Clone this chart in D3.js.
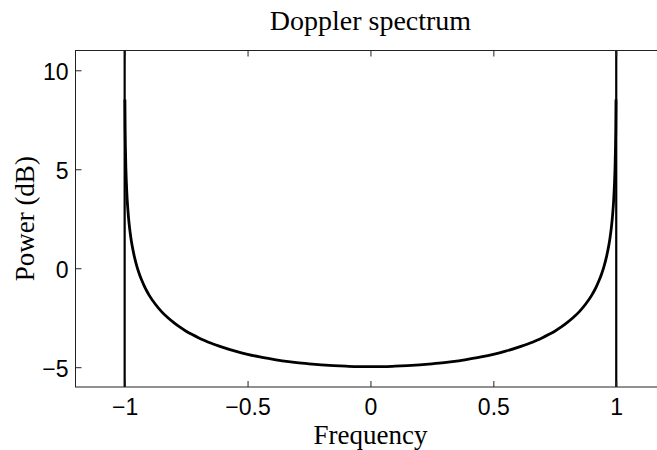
<!DOCTYPE html>
<html>
<head>
<meta charset="utf-8">
<script src="https://cdn.jsdelivr.net/npm/d3@7"></script>
<style>
  html, body { margin: 0; padding: 0; background: #fff; }
  svg { display: block; }
</style>
</head>
<body>
<svg id="chart" width="657" height="450"></svg>
<script>
// ---- data ----
const title = "Doppler spectrum";
const xLabel = "Frequency";
const yLabel = "Power (dB)";
const xTicks = [-1, -0.5, 0, 0.5, 1];
const xTickLabels = ["\u22121", "\u22120.5", "0", "0.5", "1"];
const yTicks = [-5, 0, 5, 10];
const yTickLabels = ["\u22125", "0", "5", "10"];
const xDomain = [-1.2, 1.2];
const yDomain = [-6, 11];

const frequency = [
  -0.999, -0.998, -0.997, -0.995, -0.993, -0.99, -0.985, -0.98, -0.975, -0.97,
  -0.96, -0.95, -0.94, -0.93, -0.92, -0.91, -0.9, -0.875, -0.85, -0.825,
  -0.8, -0.775, -0.75, -0.725, -0.7, -0.675, -0.65, -0.6, -0.55, -0.5,
  -0.45, -0.4, -0.35, -0.3, -0.25, -0.2, -0.15, -0.1, -0.05, 0,
  0.05, 0.1, 0.15, 0.2, 0.25, 0.3, 0.35, 0.4, 0.45, 0.5,
  0.55, 0.6, 0.65, 0.675, 0.7, 0.725, 0.75, 0.775, 0.8, 0.825,
  0.85, 0.875, 0.9, 0.91, 0.92, 0.93, 0.94, 0.95, 0.96, 0.97,
  0.975, 0.98, 0.985, 0.99, 0.993, 0.995, 0.997, 0.998, 0.999
];
const power = [
  8.52, 7.02, 6.14, 5.03, 4.31, 3.53, 2.66, 2.04, 1.56, 1.17,
  0.56, 0.08, -0.30, -0.62, -0.90, -1.15, -1.37, -1.82, -2.19, -2.49,
  -2.75, -2.98, -3.18, -3.35, -3.51, -3.65, -3.78, -4.00, -4.19, -4.35,
  -4.48, -4.59, -4.69, -4.77, -4.83, -4.88, -4.92, -4.95, -4.97, -4.97,
  -4.97, -4.95, -4.92, -4.88, -4.83, -4.77, -4.69, -4.59, -4.48, -4.35,
  -4.19, -4.00, -3.78, -3.65, -3.51, -3.35, -3.18, -2.98, -2.75, -2.49,
  -2.19, -1.82, -1.37, -1.15, -0.90, -0.62, -0.30, 0.08, 0.56, 1.17,
  1.56, 2.04, 2.66, 3.53, 4.31, 5.03, 6.14, 7.02, 8.52
];
// vertical edge lines at the Doppler limits
const edgeFreqs = [-1, 1];

// ---- layout ----
const svg = d3.select("#chart");
const mLeft = 75.5, mRight = 665.4, mTop = 50.5, mBottom = 387;
const x = d3.scaleLinear().domain(xDomain).range([mLeft, mRight]);
const y = d3.scaleLinear().domain(yDomain).range([mBottom, mTop]);

const tickFont = "'Liberation Sans', Arial, Helvetica, sans-serif";
const serifFont = "'Liberation Serif', 'Times New Roman', Times, serif";
const axisColor = "#222";

svg.append("defs").append("clipPath").attr("id", "plotclip")
  .append("rect").attr("x", mLeft).attr("y", mTop)
  .attr("width", mRight - mLeft).attr("height", mBottom - mTop);

const plot = svg.append("g").attr("clip-path", "url(#plotclip)");

// edge vertical lines
plot.selectAll("line.edge").data(edgeFreqs).enter().append("line")
  .attr("class", "edge")
  .attr("x1", d => x(d)).attr("x2", d => x(d))
  .attr("y1", y(yDomain[0])).attr("y2", y(yDomain[1]))
  .attr("stroke", "#000").attr("stroke-width", 2.2);

// spectrum curve
const pts = frequency.map((f, i) => [f, power[i]]);
const line = d3.line().x(d => x(d[0])).y(d => y(d[1])).curve(d3.curveMonotoneX);
plot.append("path").datum(pts)
  .attr("d", line)
  .attr("fill", "none").attr("stroke", "#000")
  .attr("stroke-width", 2.8).attr("stroke-linejoin", "round");

// axes (ticks inward)
function styleAxis(g) {
  g.select(".domain").remove();
  g.selectAll(".tick line").attr("stroke", axisColor).attr("stroke-width", 1);
}
const xAxisB = d3.axisBottom(x).tickValues(xTicks)
  .tickFormat((d, i) => xTickLabels[i]).tickSize(-6).tickPadding(11.7);
svg.append("g").attr("transform", `translate(0,${mBottom})`).call(xAxisB)
  .call(styleAxis)
  .call(g => g.selectAll("text").attr("font-family", tickFont)
    .attr("font-size", 23).attr("fill", "#000"));

const xAxisT = d3.axisTop(x).tickValues(xTicks).tickFormat("").tickSize(-6);
svg.append("g").attr("transform", `translate(0,${mTop})`).call(xAxisT).call(styleAxis);

const yAxisL = d3.axisLeft(y).tickValues(yTicks)
  .tickFormat((d, i) => yTickLabels[i]).tickSize(-6).tickPadding(7);
svg.append("g").attr("transform", `translate(${mLeft},0)`).call(yAxisL)
  .call(styleAxis)
  .call(g => g.selectAll("text").attr("font-family", tickFont)
    .attr("font-size", 23).attr("fill", "#000").attr("dy", "0.39em"));

const yAxisR = d3.axisRight(y).tickValues(yTicks).tickFormat("").tickSize(-6);
svg.append("g").attr("transform", `translate(${mRight},0)`).call(yAxisR).call(styleAxis);

// frame
svg.append("rect").attr("x", mLeft).attr("y", mTop)
  .attr("width", mRight - mLeft).attr("height", mBottom - mTop)
  .attr("fill", "none").attr("stroke", axisColor).attr("stroke-width", 1);

// title & labels
svg.append("text").attr("x", x(0)).attr("y", 30)
  .attr("text-anchor", "middle").attr("font-family", serifFont)
  .attr("font-size", 28).attr("fill", "#000").text(title);

svg.append("text").attr("x", x(0)).attr("y", 444)
  .attr("text-anchor", "middle").attr("font-family", serifFont)
  .attr("font-size", 27).attr("fill", "#000").text(xLabel);

svg.append("text")
  .attr("transform", `translate(34,${(mTop + mBottom) / 2}) rotate(-90)`)
  .attr("text-anchor", "middle").attr("font-family", serifFont)
  .attr("font-size", 27).attr("fill", "#000").text(yLabel);
</script>
</body>
</html>
